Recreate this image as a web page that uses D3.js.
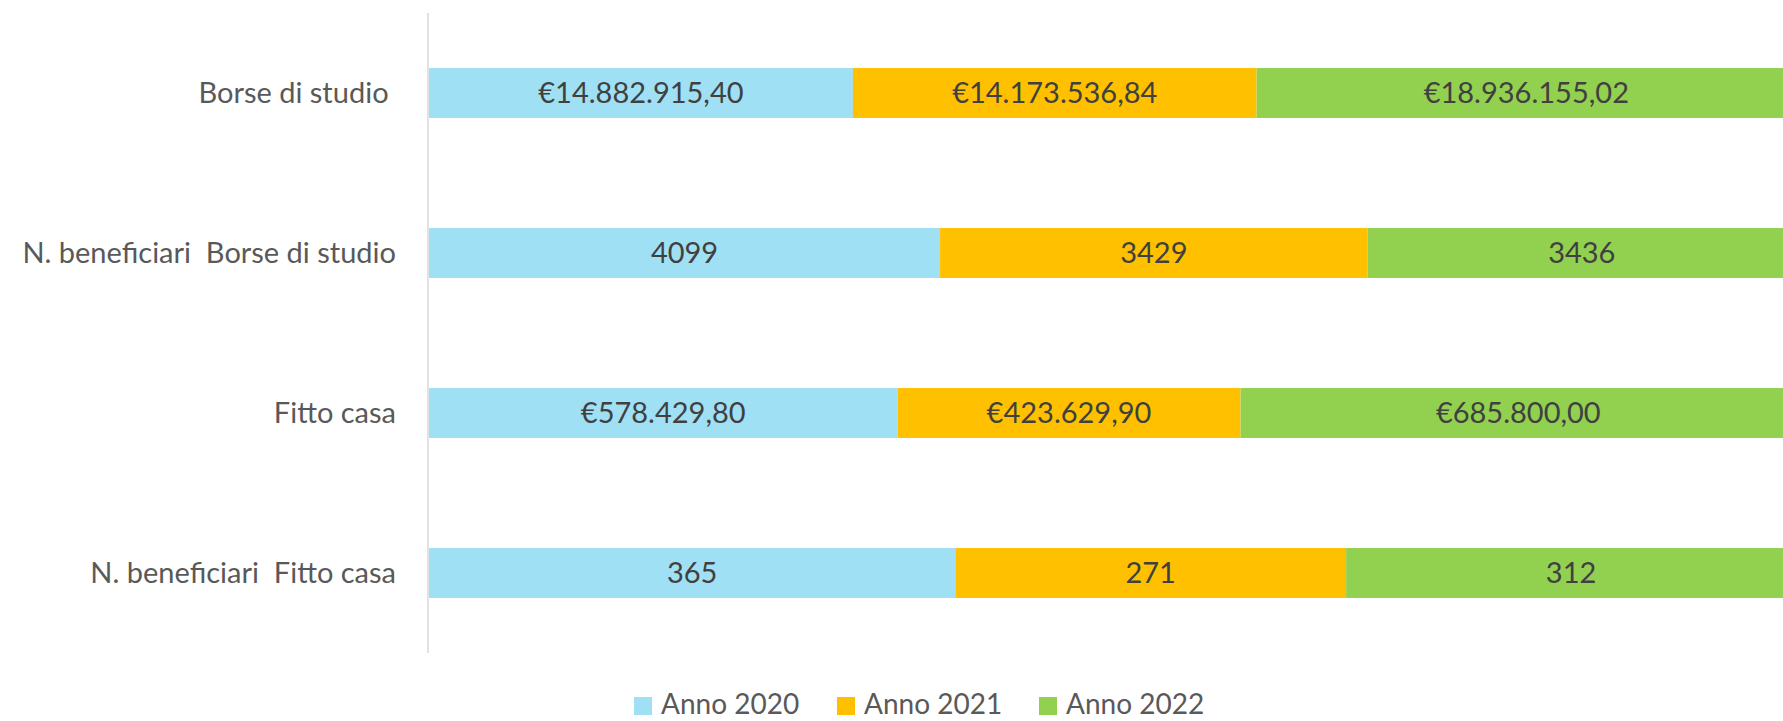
<!DOCTYPE html>
<html><head><meta charset="utf-8">
<script src="https://cdn.jsdelivr.net/npm/d3@7"></script>
<style>
html,body{margin:0;padding:0;background:#fff;overflow:hidden}
text{font-family:Lato,"Open Sans",sans-serif}
</style></head>
<body>
<svg id="c" width="1783" height="721"></svg>
<script>
const categories = ["Borse di studio ", "N. beneficiari  Borse di studio", "Fitto casa", "N. beneficiari  Fitto casa"];
const seriesNames = ["Anno 2020", "Anno 2021", "Anno 2022"];
const anno2020 = [14882915.40, 4099, 578429.80, 365];
const anno2021 = [14173536.84, 3429, 423629.90, 271];
const anno2022 = [18936155.02, 3436, 685800.00, 312];
const labels2020 = ["€14.882.915,40", "4099", "€578.429,80", "365"];
const labels2021 = ["€14.173.536,84", "3429", "€423.629,90", "271"];
const labels2022 = ["€18.936.155,02", "3436", "€685.800,00", "312"];
const colors = ["#A0E0F4", "#FFC000", "#92D050"];

const series = [anno2020, anno2021, anno2022];
const labelSets = [labels2020, labels2021, labels2022];
const rows = categories.map((c, i) => ({cat: c, v: series.map(s => s[i])}));

const svg = d3.select("#c");
const x = d3.scaleLinear().domain([0, 1]).range([429, 1796]);
const y = d3.scaleBand().domain(categories).range([13, 653]).paddingInner(0.688).paddingOuter(0.344);

const gBars = svg.append("g");
rows.forEach((r, i) => {
  const total = d3.sum(r.v);
  let cum = 0;
  r.v.forEach((v, k) => {
    const x0 = x(cum / total), x1 = x((cum + v) / total);
    gBars.append("rect").attr("x", x0).attr("y", y(r.cat)).attr("width", x1 - x0)
      .attr("height", y.bandwidth()).attr("fill", colors[k]);
    gBars.append("text").attr("x", (x0 + x1) / 2).attr("y", y(r.cat) + y.bandwidth() / 2)
      .attr("dy", "0.36em").attr("text-anchor", "middle").attr("font-size", 29)
      .attr("fill", "#404040").text(labelSets[k][i]);
    cum += v;
  });
});

// category axis
svg.append("line").attr("x1", 428).attr("x2", 428).attr("y1", 13).attr("y2", 653)
  .attr("stroke", "#D9D9D9").attr("stroke-width", 1.5);
svg.append("g").selectAll("text").data(categories).join("text")
  .attr("x", 396).attr("y", d => y(d) + y.bandwidth() / 2).attr("dy", "0.36em")
  .attr("text-anchor", "end").attr("font-size", 29).attr("fill", "#595959")
  .style("white-space", "pre").text(d => d);

// legend
const legX = [634, 837, 1039];
const leg = svg.append("g");
seriesNames.forEach((n, k) => {
  leg.append("rect").attr("x", legX[k]).attr("y", 697).attr("width", 18).attr("height", 18).attr("fill", colors[k]);
  leg.append("text").attr("x", legX[k] + 27).attr("y", 714).attr("font-size", 28).attr("fill", "#595959").text(n);
});
</script>
</body></html>
